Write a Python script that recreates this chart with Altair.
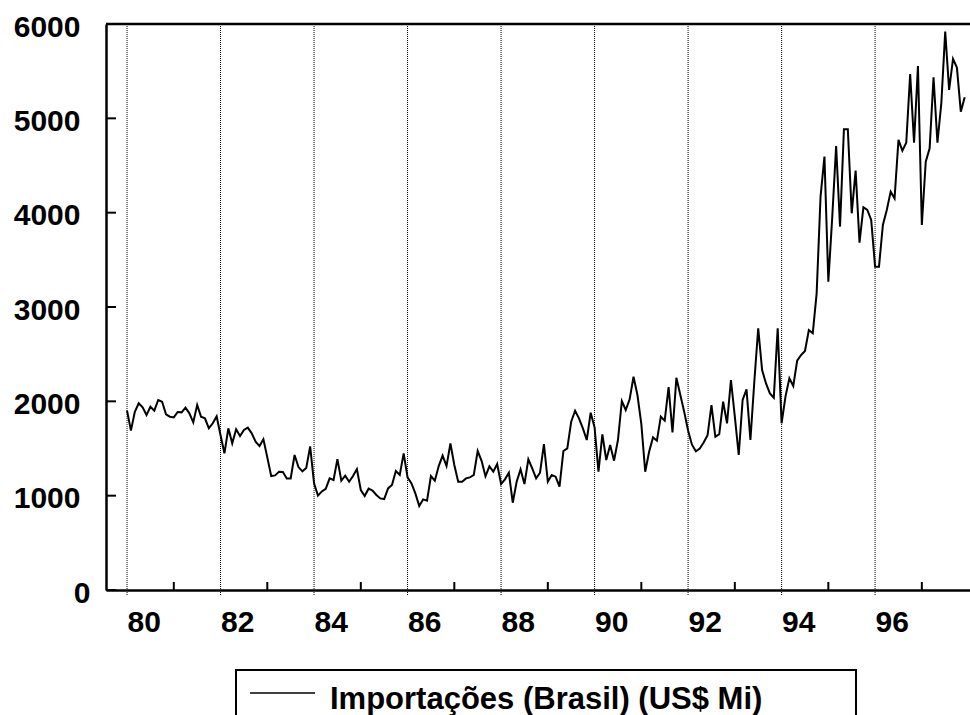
import altair as alt
import pandas as pd

# Monthly imports, US$ millions, Jan..Dec of each year
v1980 = [1901, 1689, 1890, 1979, 1936, 1855, 1943, 1901, 2014, 1996, 1862, 1837]
v1981 = [1830, 1887, 1883, 1933, 1873, 1777, 1961, 1837, 1820, 1714, 1767, 1840]
v1982 = [1640, 1449, 1714, 1555, 1703, 1632, 1696, 1721, 1661, 1572, 1526, 1597]
v1983 = [1406, 1208, 1215, 1254, 1251, 1183, 1183, 1431, 1303, 1258, 1293, 1522]
v1984 = [1130, 1000, 1045, 1073, 1183, 1166, 1388, 1159, 1212, 1148, 1208, 1282]
v1985 = [1060, 996, 1074, 1053, 1007, 971, 964, 1077, 1113, 1261, 1219, 1449]
v1986 = [1194, 1130, 1024, 890, 961, 947, 1208, 1159, 1314, 1424, 1314, 1555]
v1987 = [1325, 1148, 1148, 1183, 1194, 1219, 1473, 1370, 1205, 1310, 1254, 1335]
v1988 = [1123, 1173, 1243, 925, 1148, 1279, 1123, 1385, 1289, 1183, 1243, 1547]
v1989 = [1148, 1219, 1201, 1095, 1473, 1501, 1784, 1901, 1820, 1713, 1590, 1880]
v1990 = [1724, 1254, 1650, 1378, 1537, 1371, 1590, 2003, 1908, 2021, 2261, 2067]
v1991 = [1760, 1254, 1466, 1618, 1583, 1837, 1795, 2150, 1670, 2250, 2070, 1890]
v1992 = [1690, 1540, 1470, 1500, 1563, 1640, 1961, 1625, 1653, 1996, 1766, 2226]
v1993 = [1837, 1431, 2014, 2127, 1590, 2208, 2774, 2332, 2190, 2084, 2038, 2774]
v1994 = [1767, 2050, 2244, 2163, 2431, 2491, 2534, 2756, 2721, 3145, 4170, 4594]
v1995 = [3269, 3950, 4707, 3852, 4884, 4884, 3993, 4446, 3682, 4057, 4029, 3923]
v1996 = [3428, 3428, 3870, 4029, 4223, 4152, 4771, 4658, 4742, 5470, 4742, 5555]
v1997 = [3870, 4541, 4682, 5435, 4742, 5160, 5919, 5301, 5630, 5538, 5071, 5223]

years = list(range(1980, 1998))
series_by_year = [v1980, v1981, v1982, v1983, v1984, v1985, v1986, v1987, v1988,
                  v1989, v1990, v1991, v1992, v1993, v1994, v1995, v1996, v1997]

grid_years = [1980, 1982, 1984, 1986, 1988, 1990, 1992, 1994, 1996]
minor_years = [1981, 1983, 1985, 1987, 1989, 1991, 1993, 1995, 1997]
y_ticks = [0, 1000, 2000, 3000, 4000, 5000, 6000]
legend_label = "Importações (Brasil) (US$ Mi)"

rows = []
for yr, vals in zip(years, series_by_year):
    for m, v in enumerate(vals):
        rows.append({"t": yr + m / 12.0, "v": v})
df = pd.DataFrame(rows)

FONT = "Liberation Sans"
W, H = 864, 566

xscale = alt.Scale(domain=[1979.55, 1998.03], nice=False, zero=False)
yscale = alt.Scale(domain=[0, 6000], nice=False)

x_axis = alt.Axis(
    values=grid_years,
    labelExpr="substring(toString(datum.value), 2)",
    title=None, grid=False, ticks=False, tickSize=0,
    labelAlign="left", labelBaseline="top", labelPadding=17,
    labelFont=FONT, labelFontSize=30, labelFontWeight="bold", labelColor="black",
    domainColor="black", domainWidth=2.5,
    labelFlush=False, labelOverlap=False, labelBound=False,
)
y_axis = alt.Axis(
    values=y_ticks, format="d",
    title=None, grid=False, ticks=False, tickSize=0,
    labelAlign="right", labelBaseline="middle",
    labelPadding={"condition": {"test": "datum.value == 0", "value": 16}, "value": 26},
    labelOffset=3,
    labelFont=FONT, labelFontSize=30, labelFontWeight="bold", labelColor="black",
    domainColor="black", domainWidth=2.5,
    labelFlush=False, labelOverlap=False, labelBound=False,
)

X = alt.X("t:Q", scale=xscale, axis=x_axis)
Y = alt.Y("v:Q", scale=yscale, axis=y_axis)

grid = alt.Chart(pd.DataFrame({"t": grid_years})).mark_rule(
    color="black", strokeDash=[1, 1], strokeWidth=1
).encode(x=X, y=alt.value(0), y2=alt.value(H + 5))

line = alt.Chart(df).mark_line(color="black", strokeWidth=2).encode(x=X, y=Y)

minor = alt.Chart(pd.DataFrame({"t": minor_years})).mark_rule(
    color="black", strokeWidth=2
).encode(x=X, y=alt.value(H - 8), y2=alt.value(H))

yt = alt.Chart(pd.DataFrame({"v": y_ticks})).mark_rule(
    color="black", strokeWidth=2
).encode(y=Y, x=alt.value(0), x2=alt.value(10))

top = alt.Chart(pd.DataFrame({"a": [0]})).mark_rule(
    color="black", strokeWidth=2.5
).encode(x=alt.value(0), x2=alt.value(W), y=alt.value(0))

box = alt.Chart(pd.DataFrame({"a": [0]})).mark_rect(
    fillOpacity=0, stroke="black", strokeWidth=2
).encode(x=alt.value(130), x2=alt.value(750), y=alt.value(646), y2=alt.value(720))

sample = alt.Chart(pd.DataFrame({"a": [0]})).mark_rule(
    color="black", strokeWidth=1.5
).encode(x=alt.value(144), x2=alt.value(209), y=alt.value(669))

label = alt.Chart(pd.DataFrame({"label": [legend_label]})).mark_text(
    align="left", baseline="alphabetic", font=FONT, fontSize=31,
    fontWeight="bold", color="black"
).encode(x=alt.value(224), y=alt.value(685), text="label:N")

chart = alt.layer(line, grid, minor, yt, top, box, sample, label).properties(
    width=W, height=H,
    padding={"left": 106, "top": 24, "right": 0, "bottom": 125},
    autosize=alt.AutoSizeParams(type="none"),
    background="white",
).configure_view(strokeWidth=0)

chart.save("out.html", embed_options={"renderer": "svg", "actions": False})
